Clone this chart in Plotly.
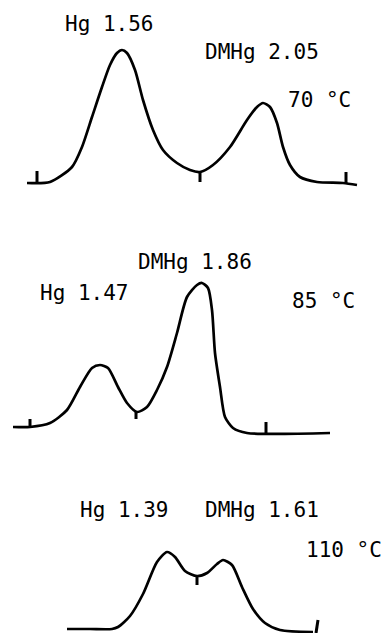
import plotly.graph_objects as go

# Chromatogram traces (time units ~ horizontal position, signal ~ vertical position, image space)
t70 = [27, 50, 72, 82, 92, 102, 110, 117, 122, 127, 135, 143, 153, 163, 177, 190, 200,
       213, 230, 247, 257, 263, 270, 277, 283, 290, 300, 317, 343, 357]
s70 = [183, 182, 167, 147, 117, 87, 65, 53, 50, 53, 70, 100, 130, 150, 163, 170, 172,
       165, 147, 120, 107, 103, 107, 123, 147, 165, 177, 182, 183, 185]

t85 = [13, 30, 50, 67, 80, 92, 100, 108, 118, 127, 137, 147, 157, 167, 177, 187,
       197, 202, 208, 212, 215, 220, 225, 233, 247, 330]
s85 = [427, 427, 423, 410, 387, 368, 365, 368, 387, 403, 412, 407, 390, 367, 333, 297,
       285, 283, 288, 310, 353, 387, 417, 428, 433, 433]

t110 = [67, 90, 112, 118, 130, 143, 157, 167, 175, 185, 197, 207, 217, 223, 232, 242,
        253, 265, 280, 313]
s110 = [629, 629, 629, 627, 616, 594, 562, 552, 557, 571, 576, 573, 564, 560, 565, 587,
        609, 623, 630, 632]

# integration tick marks (x start, y start, x end, y end)
tick_x0 = [37, 200, 346, 30, 136, 266, 197, 318]
tick_y0 = [183, 172, 184, 427, 412, 433, 576, 620]
tick_x1 = [37, 200, 346, 30, 136, 266, 197, 316]
tick_y1 = [171, 182, 172, 419, 419, 422, 585, 633]

labels = ["Hg 1.56", "DMHg 2.05", "70 °C", "DMHg 1.86", "Hg 1.47", "85 °C",
          "Hg 1.39", "DMHg 1.61", "110 °C"]
label_x = [109, 262, 319, 195, 84, 323, 124, 262, 344]
label_y = [24, 52, 100, 262, 293, 301, 510, 510, 550]

fig = go.Figure()
for t, s in [(t70, s70), (t85, s85), (t110, s110)]:
    fig.add_trace(go.Scatter(x=t, y=s, mode="lines", line=dict(color="black", width=2.7, shape="spline", smoothing=0.7),
                             hoverinfo="skip", showlegend=False))
for x0, y0, x1, y1 in zip(tick_x0, tick_y0, tick_x1, tick_y1):
    fig.add_trace(go.Scatter(x=[x0, x1], y=[y0, y1], mode="lines", line=dict(color="black", width=3),
                             hoverinfo="skip", showlegend=False))

for txt, x, y in zip(labels, label_x, label_y):
    fig.add_annotation(x=x, y=y, xref="x", yref="y", text=txt, showarrow=False,
                       font=dict(family="DejaVu Sans Mono", size=21, color="black"),
                       xanchor="center", yanchor="middle")

fig.update_xaxes(range=[0, 382], visible=False, fixedrange=True)
fig.update_yaxes(range=[633, 0], visible=False, fixedrange=True)
fig.update_layout(width=382, height=633, margin=dict(l=0, r=0, t=0, b=0),
                  plot_bgcolor="white", paper_bgcolor="white")
fig.write_html("out.html", config={"displayModeBar": False},
               post_script="document.body.style.margin='0';document.body.style.overflow='hidden';")
